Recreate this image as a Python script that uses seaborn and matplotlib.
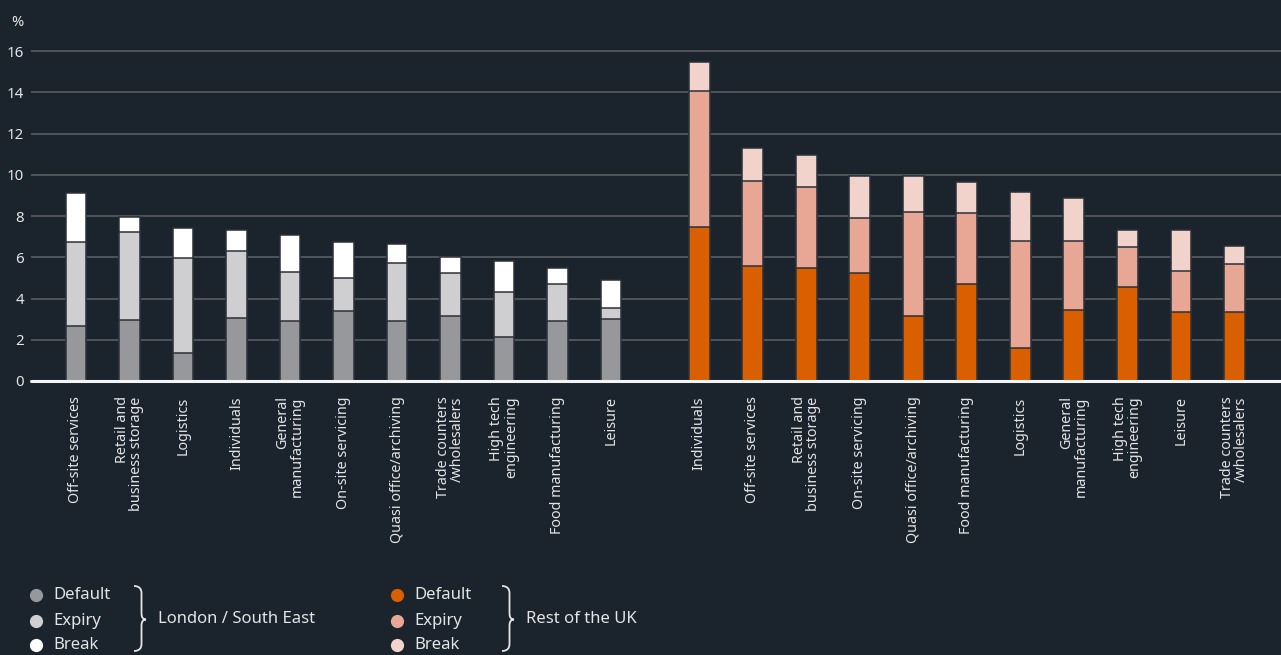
import numpy as np
import pandas as pd
import matplotlib
matplotlib.use("Agg")
import matplotlib.pyplot as plt
from matplotlib.path import Path
from matplotlib.patches import PathPatch
from matplotlib.lines import Line2D
import seaborn as sns

# ---- data: share of units (%) by occupier type, split by reason -------------
regions = ["London / South East", "Rest of the UK"]

ldn_labels = ["Off-site services", "Retail and\nbusiness storage", "Logistics",
              "Individuals", "General\nmanufacturing", "On-site servicing",
              "Quasi office/archiving", "Trade counters\n/wholesalers",
              "High tech\nengineering", "Food manufacturing", "Leisure"]
ldn_default = [2.68, 2.97, 1.35, 3.04, 2.91, 3.40, 2.91, 3.15, 2.12, 2.91, 3.02]
ldn_expiry = [4.04, 4.24, 4.63, 3.28, 2.36, 1.61, 2.82, 2.09, 2.20, 1.79, 0.54]
ldn_break = [2.42, 0.75, 1.42, 1.01, 1.82, 1.71, 0.89, 0.76, 1.48, 0.76, 1.34]

uk_labels = ["Individuals", "Off-site services", "Retail and\nbusiness storage",
             "On-site servicing", "Quasi office/archiving", "Food manufacturing",
             "Logistics", "General\nmanufacturing", "High tech\nengineering",
             "Leisure", "Trade counters\n/wholesalers"]
uk_default = [7.47, 5.58, 5.50, 5.25, 3.17, 4.69, 1.62, 3.46, 4.57, 3.36, 3.36]
uk_expiry = [6.61, 4.13, 3.92, 2.67, 5.04, 3.46, 5.18, 3.33, 1.93, 1.99, 2.31]
uk_break = [1.40, 1.57, 1.54, 2.04, 1.75, 1.52, 2.38, 2.10, 0.82, 1.97, 0.88]

segments = ["Default", "Expiry", "Break"]
y_ticks = [0, 2, 4, 6, 8, 10, 12, 14, 16]

# ---- styling ----------------------------------------------------------------
BG = "#1b232c"
TXT = "#e4e5e6"
GRID = "#5d6268"
colors = {
    "London / South East": {"Default": "#97989b", "Expiry": "#cfcfd1", "Break": "#ffffff"},
    "Rest of the UK": {"Default": "#da5f00", "Expiry": "#e8a794", "Break": "#f2d3cc"},
}

W, H = 1281, 655
sns.set_style("dark")
plt.rcParams["font.family"] = ["Noto Sans", "DejaVu Sans"]
plt.rcParams["text.color"] = TXT

# ---- long table with stacked tops --------------------------------------------
gap = 0.65  # extra room between the two regional groups
n = len(ldn_labels)
df = pd.DataFrame({
    "pos": np.r_[np.arange(n), np.arange(n) + n + gap],
    "region": [regions[0]] * n + [regions[1]] * n,
    "label": ldn_labels + uk_labels,
    "Default": ldn_default + uk_default,
    "Expiry": ldn_expiry + uk_expiry,
    "Break": ldn_break + uk_break,
})
df["top_Default"] = df["Default"]
df["top_Expiry"] = df["Default"] + df["Expiry"]
df["top_Break"] = df["top_Expiry"] + df["Break"]

fig = plt.figure(figsize=(W / 100, H / 100), dpi=100, facecolor=BG)
ax = fig.add_axes([31 / W, (H - 381) / H, 1 - 31 / W, 350.6 / H])
ax.set_facecolor(BG)

# draw the tallest layer first so lower segments sit on top of it
for seg in ["Break", "Expiry", "Default"]:
    sns.barplot(data=df, x="pos", y=f"top_{seg}", hue="region",
                palette={r: colors[r][seg] for r in regions}, saturation=1,
                native_scale=True, dodge=False, width=0.39, errorbar=None,
                legend=False, edgecolor="#2a3139", linewidth=1.1, ax=ax, zorder=2)

ax.set_ylim(0, 17)
ax.set_xlim(-0.84, 22.52)
ax.set_yticks(y_ticks)
ax.set_yticklabels([str(t) for t in y_ticks])
ax.set_xticks(df["pos"])
ax.set_xticklabels(df["label"], rotation=90, ha="center", va="top",
                   multialignment="right", linespacing=0.95)
ax.set_xlabel("")
ax.set_ylabel("")
for s in ax.spines.values():
    s.set_visible(False)
ax.grid(axis="y", color=GRID, linewidth=1.1)
ax.grid(axis="x", visible=False)
ax.set_axisbelow(True)
ax.tick_params(axis="y", length=0, pad=5, labelsize=10.8, labelcolor=TXT)
ax.tick_params(axis="x", length=0, pad=11, labelsize=10.3, labelcolor=TXT)
ax.axhline(0, color="#f4f4f4", linewidth=2.2, zorder=4, clip_on=False)

fig.text(11 / W, 1 - 22 / H, "%", fontsize=10.5, color=TXT, va="center", ha="left")


# ---- legend -------------------------------------------------------------------
def fp(x, y):
    return x / W, 1 - y / H


def brace(x0, ytop, ybot):
    ym = (ytop + ybot) / 2 + 1
    xs, xt = x0 + 7.5, x0 + 12
    pts = [(x0, ytop), (xs, ytop), (xs, ytop + 7), (xs, ym - 6), (xs, ym), (xt, ym),
           (xs, ym), (xs, ym + 6), (xs, ybot - 7), (xs, ybot), (x0, ybot)]
    codes = [Path.MOVETO, Path.CURVE3, Path.CURVE3, Path.LINETO, Path.CURVE3, Path.CURVE3,
             Path.CURVE3, Path.CURVE3, Path.LINETO, Path.CURVE3, Path.CURVE3]
    path = Path([fp(*p) for p in pts], codes)
    fig.add_artist(PathPatch(path, transform=fig.transFigure, fill=False,
                             edgecolor=TXT, linewidth=1.3))


legend_rows = [595, 621, 645]
for region, x_dot, x_brace, x_name in [(regions[0], 36, 134, 158), (regions[1], 397, 502, 526)]:
    for seg, yy in zip(segments, legend_rows):
        fig.add_artist(Line2D([fp(x_dot, yy)[0]], [fp(x_dot, yy)[1]], marker="o",
                              markersize=9.5, color=colors[region][seg],
                              markeredgewidth=0, transform=fig.transFigure))
        fig.text(*fp(x_dot + 17, yy), seg, fontsize=12, color=TXT,
                 va="center", ha="left")
    brace(x_brace, 586, 651)
    fig.text(*fp(x_name, 619), region, fontsize=12, color=TXT, va="center", ha="left")

fig.savefig("out.png", dpi=100, facecolor=BG)
